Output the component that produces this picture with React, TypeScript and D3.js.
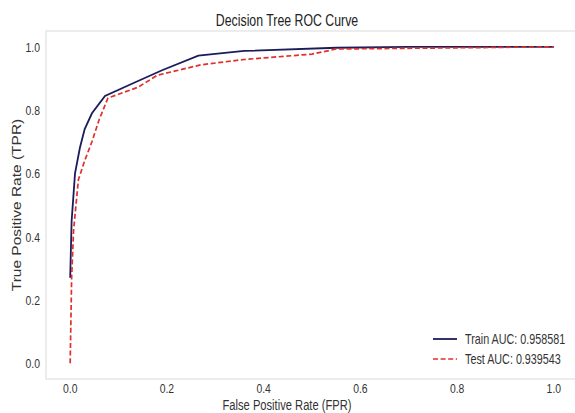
import React from "react";
import * as d3 from "d3";

const trainFPR = [0, 0.003, 0.01, 0.02, 0.03, 0.045, 0.072, 0.13, 0.19, 0.265, 0.36, 0.55, 0.7, 1.0];
const trainTPR = [0.27, 0.45, 0.6, 0.68, 0.74, 0.79, 0.845, 0.885, 0.926, 0.972, 0.987, 0.997, 1.0, 1.0];
const testFPR = [0, 0.003, 0.007, 0.012, 0.017, 0.03, 0.045, 0.06, 0.078, 0.14, 0.18, 0.27, 0.36, 0.5, 0.55, 1.0];
const testTPR = [0, 0.27, 0.42, 0.5, 0.58, 0.64, 0.7, 0.77, 0.838, 0.872, 0.91, 0.943, 0.96, 0.977, 0.993, 1.0];
const xTicks = [0, 0.2, 0.4, 0.6, 0.8, 1.0];
const yTicks = [0, 0.2, 0.4, 0.6, 0.8, 1.0];
const legendLabels = ["Train AUC: 0.958581", "Test AUC: 0.939543"];

const W = 575, H = 413;
const L = 46, R = 578, T = 31, B = 379;
const FONT = "'Liberation Sans', Arial, sans-serif";
const SQ = 0.77;

function SText(props: any) {
  const { x, y, children, anchor = "start", size = 14, fill = "#333", rotate = false } = props;
  const tr = rotate
    ? `translate(${x},${y}) scale(${SQ},1) rotate(-90)`
    : `translate(${x},${y}) scale(${SQ},1)`;
  return (
    <text transform={tr} textAnchor={anchor} fontSize={size} fontFamily={FONT} fill={fill}>
      {children}
    </text>
  );
}

export default function App() {
  const x = d3.scaleLinear().domain([-0.05, 1.05]).range([L, R]);
  const y = d3.scaleLinear().domain([-0.05, 1.05]).range([B, T]);
  const line = d3.line<[number, number]>().x((d) => x(d[0])).y((d) => y(d[1]));
  const train: [number, number][] = trainFPR.map((f, i) => [f, trainTPR[i]]);
  const test: [number, number][] = testFPR.map((f, i) => [f, testTPR[i]]);
  const trainColor = "#1c1c5a";
  const testColor = "#e0302c";
  return (
    <svg width={W} height={H} style={{ display: "block", position: "absolute", left: 0, top: 0, background: "#fff" }}>
      <rect x={0} y={0} width={W} height={H} fill="#fff" />
      <rect x={L} y={T} width={R - L} height={B - T} fill="none" stroke="#e3e3e3" strokeWidth={1.3} />
      <defs>
        <clipPath id="pc">
          <rect x={L} y={T} width={R - L} height={B - T} />
        </clipPath>
      </defs>
      <g clipPath="url(#pc)">
        <path d={line(train) || ""} fill="none" stroke={trainColor} strokeWidth={1.8} />
        <path d={line(test) || ""} fill="none" stroke={testColor} strokeWidth={1.7} strokeDasharray="5,2.6" />
      </g>
      {xTicks.map((t) => (
        <SText key={"x" + t} x={x(t)} y={393} anchor="middle" size={13.5}>
          {t.toFixed(1)}
        </SText>
      ))}
      {yTicks.map((t) => (
        <SText key={"y" + t} x={40} y={y(t) + 5} anchor="end" size={13.5}>
          {t.toFixed(1)}
        </SText>
      ))}
      <SText x={287} y={26} anchor="middle" size={16} fill="#222">
        Decision Tree ROC Curve
      </SText>
      <SText x={287} y={410} anchor="middle" size={14.5} fill="#333">
        False Positive Rate (FPR)
      </SText>
      <SText x={21} y={205} anchor="middle" size={15.5} fill="#333" rotate>
        True Positive Rate (TPR)
      </SText>
      <line x1={433} x2={457} y1={339} y2={339} stroke={trainColor} strokeWidth={1.8} />
      <line x1={433} x2={457} y1={359} y2={359} stroke={testColor} strokeWidth={1.7} strokeDasharray="5,2.6" />
      <SText x={465} y={344} size={14}>{legendLabels[0]}</SText>
      <SText x={465} y={364} size={14}>{legendLabels[1]}</SText>
    </svg>
  );
}
